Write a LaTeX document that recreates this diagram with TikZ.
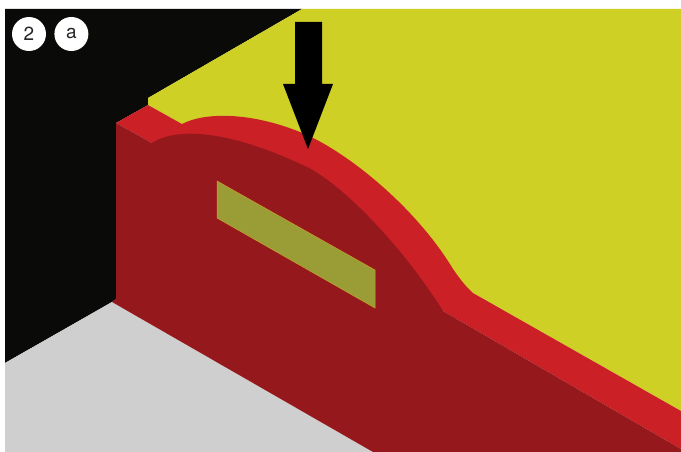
\documentclass[tikz,border=0pt]{standalone}
\usepackage{xcolor}
\usepackage{fontspec}
\setmainfont{TeX Gyre Heros}
\usetikzlibrary{positioning}
\definecolor{wallblack}{HTML}{0A0A08}
\definecolor{backyellow}{HTML}{CFD026}
\definecolor{floorgray}{HTML}{CFCFCF}
\definecolor{ledgered}{HTML}{CC2027}
\definecolor{frontred}{HTML}{95191C}
\definecolor{slotolive}{HTML}{9A9C35}
\definecolor{slotedge}{HTML}{C8A030}
\tikzset{
    badge/.style={circle, fill=white, minimum size=34pt, inner sep=0pt, font=\fontsize{19}{19}\selectfont, text=black!85},
    face/.style={draw=none}
}

\begin{document}
\begin{tikzpicture}[x=1pt,y=-1pt]
    \useasboundingbox (0,0) rectangle (681,452);
    \fill[white] (0,0) rectangle (681,452);
    \coordinate (tl) at (5,9);
    \coordinate (tr) at (681,9);
    \coordinate (bl) at (5,452);
    \coordinate (br) at (681,452);
    \coordinate (floorcorner) at (112,302);
    \coordinate (wallcorner) at (116,299);
    \coordinate (walltop) at (116,123);
    \coordinate (ledgeback) at (148,105);
    \coordinate (ledgein) at (182,124);
    \coordinate (ledgefront) at (152,143);
    \coordinate (stepback) at (473,293);
    \coordinate (stepfront) at (443,311);
    \coordinate (rightback) at (681,411);
    \coordinate (rightfront) at (681,449);

    % walls and floor
    \fill[wallblack, face] (tl) -- (302,9) -- (148,98) -- (ledgeback) -- (walltop) -- (wallcorner) -- (floorcorner) -- (5,363) -- cycle;
    \fill[backyellow, face] (302,9) -- (tr) -- (rightback) -- (stepback) -- (ledgein) -- (ledgeback) -- (148,98) -- cycle;
    \fill[floorgray, face] (5,363) -- (floorcorner) -- (373,452) -- (bl) -- cycle;

    % raised part
    \fill[ledgered, face] (walltop) -- (ledgeback) -- (ledgein)
        .. controls (205,112) and (250,112) .. (300,132)
        .. controls (345,150) and (415,206) .. (453,269)
        .. controls (460,279) and (466,287) .. (stepback)
        -- (rightback) -- (rightfront) -- (stepfront) -- (ledgefront) -- cycle;
    \fill[frontred, face] (walltop) -- (ledgefront)
        .. controls (175,128) and (225,128) .. (307,167)
        .. controls (345,186) and (405,250) .. (stepfront)
        -- (rightfront) -- (br) -- (373,452) -- (floorcorner) -- (wallcorner) -- cycle;

    % slot
    \fill[slotolive, draw=slotedge, line width=0.5pt] (217,181) -- (375,270) -- (375,308) -- (217,218) -- cycle;

    % arrow
    \fill[black, face] (295,22) -- (322,22) -- (322,84) -- (333,84) -- (308,149) -- (283,84) -- (295,84) -- cycle;

    \node[badge] (two) at (29,34) {2};
    \node[badge, right=8pt of two] (letter) {a};
\end{tikzpicture}
\end{document}
